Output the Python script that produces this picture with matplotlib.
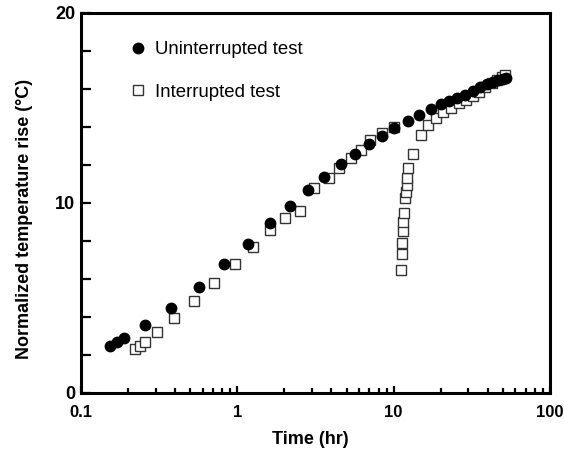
import matplotlib
matplotlib.use("Agg")
import matplotlib.pyplot as plt
from matplotlib.ticker import LogLocator, NullFormatter, FixedLocator

# Uninterrupted test (filled circles)
t_unint = [0.153, 0.170, 0.188, 0.256, 0.378, 0.565, 0.826, 1.17, 1.62, 2.17, 2.83,
           3.61, 4.57, 5.62, 7.0, 8.43, 10.1, 12.3, 14.6, 17.4, 20.1, 22.7, 25.6,
           28.6, 32.0, 35.7, 39.3, 42.9, 46.6, 50.2, 52.6]
y_unint = [2.49, 2.67, 2.88, 3.56, 4.49, 5.6, 6.77, 7.86, 8.95, 9.86, 10.67,
           11.39, 12.04, 12.58, 13.1, 13.53, 13.93, 14.3, 14.63, 14.93, 15.19, 15.37, 15.53,
           15.7, 15.91, 16.09, 16.25, 16.37, 16.47, 16.54, 16.6]

# Interrupted test (open squares)
t_int = [0.222, 0.238, 0.257, 0.306, 0.393, 0.525, 0.711, 0.967, 1.26, 1.61, 2.03, 2.53,
         3.09, 3.86, 4.47, 5.3, 6.14, 7.1, 8.4, 10.0,
         11.2, 11.3, 11.3, 11.5, 11.5, 11.6, 11.9, 12.0, 12.1, 12.2, 12.4, 13.2,
         14.9, 16.5, 18.6, 20.8, 23.3, 26.2, 29.2, 32.0, 35.2, 38.5, 42.4, 45.6, 49.2, 51.7]
y_int = [2.3, 2.49, 2.67, 3.19, 3.96, 4.86, 5.77, 6.77, 7.7, 8.58, 9.19, 9.58,
         10.77, 11.3, 11.83, 12.35, 12.8, 13.3, 13.7, 14.0,
         6.47, 7.3, 7.9, 8.5, 9.0, 9.45, 10.25, 10.6, 10.95, 11.3, 11.83, 12.58,
         13.58, 14.1, 14.46, 14.77, 14.98, 15.25, 15.42, 15.63, 15.86, 16.09, 16.3, 16.47, 16.65, 16.74]

y_ticks = [0, 10, 20]
y_minor = [2, 4, 6, 8, 12, 14, 16, 18]
x_ticks = [0.1, 1, 10, 100]
x_ticklabels = ["0.1", "1", "10", "100"]

plt.rcParams['font.family'] = ['Liberation Sans', 'DejaVu Sans']

fig = plt.figure(figsize=(5.64, 4.54), dpi=100)
ax = fig.add_axes([0.1436, 0.1344, 0.8316, 0.837])

ax.plot(t_int, y_int, linestyle='none', marker='s', markersize=7.5,
        markerfacecolor='white', markeredgecolor='#333333', markeredgewidth=1.0,
        label='Interrupted test', zorder=2)
ax.plot(t_unint, y_unint, linestyle='none', marker='o', markersize=7.5,
        markerfacecolor='black', markeredgecolor='black',
        label='Uninterrupted test', zorder=3)

ax.set_xscale('log')
ax.set_xlim(0.1, 100)
ax.set_ylim(0, 20)

ax.xaxis.set_major_locator(FixedLocator(x_ticks))
ax.set_xticklabels(x_ticklabels)
ax.xaxis.set_minor_locator(LogLocator(base=10, subs=range(2, 10)))
ax.xaxis.set_minor_formatter(NullFormatter())
ax.yaxis.set_major_locator(FixedLocator(y_ticks))
ax.yaxis.set_minor_locator(FixedLocator(y_minor))

for s in ax.spines.values():
    s.set_linewidth(2.2)

ax.tick_params(axis='both', which='both', direction='in', top=False, right=False,
               width=1.6)
ax.tick_params(axis='x', which='major', length=5.4, labelsize=12, pad=9)
ax.tick_params(axis='x', which='minor', length=3.3)
ax.tick_params(axis='y', which='both', length=7, labelsize=13, pad=4)
for lab in ax.get_xticklabels() + ax.get_yticklabels():
    lab.set_fontweight('bold')

ax.set_xlabel('Time (hr)', fontsize=13, fontweight='bold')
ax.set_ylabel('Normalized temperature rise (°C)', fontsize=13, fontweight='bold')
ax.xaxis.set_label_coords(0.488, -0.1)
ax.yaxis.set_label_coords(-0.103, 0.458)

handles, labels = ax.get_legend_handles_labels()
leg = ax.legend([handles[1], handles[0]], [labels[1], labels[0]],
                loc='upper left', bbox_to_anchor=(0.082, 0.945), frameon=False,
                fontsize=13.4, handletextpad=0.3, labelspacing=1.37, handlelength=1.22,
                borderaxespad=0.0)

fig.savefig('out.png', dpi=100)
